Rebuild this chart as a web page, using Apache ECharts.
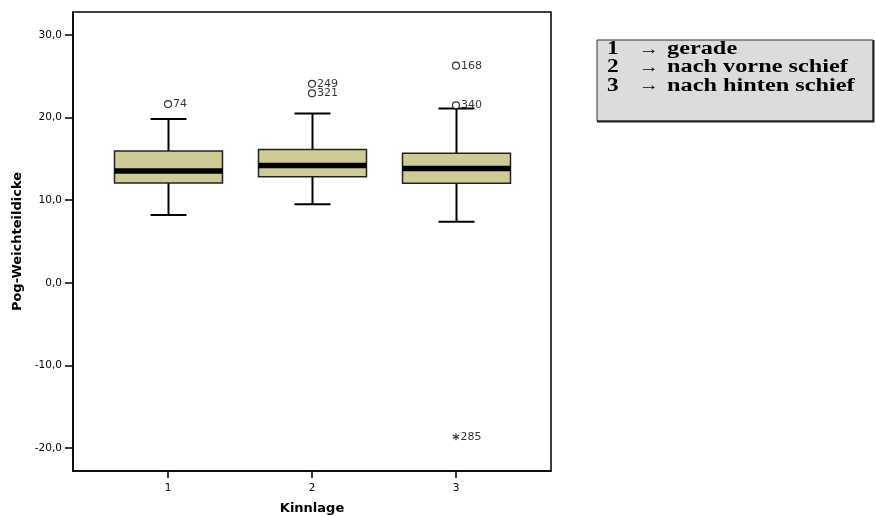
<!DOCTYPE html>
<html>
<head>
<meta charset="utf-8">
<script src="https://cdn.jsdelivr.net/npm/echarts@6/dist/echarts.min.js"></script>
<style>
  html, body { margin: 0; padding: 0; background: #fff; }
  #chart { width: 876px; height: 516px; }
</style>
</head>
<body>
<div id="chart"></div>
<script>
// Kinnlage groups and box statistics of Pog-Weichteildicke
const categories = [1, 2, 3];
const whiskerLow = [8.2, 9.5, 7.4];
const quartile1 = [12.1, 12.85, 12.05];
const medians = [13.55, 14.2, 13.85];
const quartile3 = [15.95, 16.15, 15.7];
const whiskerHigh = [19.85, 20.5, 21.1];

// Outliers (circles) and extremes (stars): [group, value, case number]
const outliers = [
  [1, 21.65, '74'],
  [2, 24.1, '249'],
  [2, 22.95, '321'],
  [3, 26.3, '168'],
  [3, 21.5, '340']
];
const extremes = [
  [3, -18.65, '285']
];

const yTicks = [-20, -10, 0, 10, 20, 30];
const legendKeys = ['1', '2', '3'];
const legendTexts = ['gerade', 'nach vorne schief', 'nach hinten schief'];

const SANS = '"DejaVu Sans", "Liberation Sans", sans-serif';
const SERIF = '"Liberation Serif", "Times New Roman", serif';

// six-armed asterisk used for extreme values
function asteriskPath() {
  const L = 5, W = 0.75;
  let d = '';
  for (let k = 0; k < 3; k++) {
    const a = k * Math.PI / 3;
    const c = Math.cos(a), s = Math.sin(a);
    const pts = [[-W, -L], [W, -L], [W, L], [-W, L]].map(([x, y]) =>
      [(x * c - y * s).toFixed(3), (x * s + y * c).toFixed(3)]);
    d += 'M' + pts.map(p => p.join(',')).join(' L') + ' Z ';
  }
  return 'path://' + d;
}

const boxData = categories.map((c, i) =>
  [c, whiskerLow[i], quartile1[i], medians[i], quartile3[i], whiskerHigh[i]]);

const BOX_W = 0.75;   // box width in x units
const CAP_W = 0.25;   // whisker cap width in x units

function renderBox(params, api) {
  const x = api.value(0);
  const low = api.coord([x, api.value(1)]);
  const q1 = api.coord([x, api.value(2)]);
  const med = api.coord([x, api.value(3)]);
  const q3 = api.coord([x, api.value(4)]);
  const high = api.coord([x, api.value(5)]);
  const bw = api.size([BOX_W, 0])[0];
  const cw = api.size([CAP_W, 0])[0];
  const cx = Math.round(low[0]) + 0.5;
  const lineStyle = { stroke: '#000', lineWidth: 2 };
  return {
    type: 'group',
    children: [
      { type: 'line', shape: { x1: cx, y1: high[1], x2: cx, y2: q3[1] }, style: lineStyle },
      { type: 'line', shape: { x1: cx, y1: q1[1], x2: cx, y2: low[1] }, style: lineStyle },
      { type: 'line', shape: { x1: cx - cw / 2, y1: high[1], x2: cx + cw / 2, y2: high[1] }, style: lineStyle },
      { type: 'line', shape: { x1: cx - cw / 2, y1: low[1], x2: cx + cw / 2, y2: low[1] }, style: lineStyle },
      {
        type: 'rect',
        shape: { x: cx - bw / 2, y: q3[1], width: bw, height: q1[1] - q3[1] },
        style: { fill: '#cecb97', stroke: '#222', lineWidth: 1.5 }
      },
      {
        type: 'rect',
        shape: { x: cx - bw / 2, y: med[1] - 2.75, width: bw, height: 5.5 },
        style: { fill: '#000' }
      }
    ]
  };
}

const chart = echarts.init(document.getElementById('chart'), null, { renderer: 'canvas' });

// legend rows: number, arrow, description (text is drawn wide)
const legendRows = [];
legendKeys.forEach((k, i) => {
  const y = 49.5 + i * 18.2;
  const txt = (x, s, font, sx) => ({
    type: 'text', x: x, y: y, scaleX: sx,
    style: { text: s, x: 0, y: 0, font: font, fill: '#000', verticalAlign: 'middle', align: 'left' }
  });
  legendRows.push(
    txt(607, k, 'bold 18px ' + SERIF, 1.3),
    txt(639, '\u2192', '16px ' + SERIF, 1.25),
    txt(667, legendTexts[i], 'bold 18px ' + SERIF, 1.35)
  );
});

chart.setOption({
  animation: false,
  backgroundColor: '#fff',
  grid: {
    left: 73, top: 12, right: 325, bottom: 45,
    outerBoundsMode: 'none',
    containLabel: false,
    show: true, borderColor: '#000', borderWidth: 1.5, backgroundColor: 'transparent'
  },
  xAxis: {
    type: 'value',
    min: 0.34, max: 3.66,
    name: 'Kinnlage',
    nameLocation: 'middle',
    nameGap: 31,
    nameTextStyle: { fontFamily: SANS, fontWeight: 'bold', fontSize: 13, color: '#000' },
    axisLine: { show: true, onZero: false, lineStyle: { color: '#000', width: 1.5 } },
    axisTick: { show: true, customValues: categories, length: 7, lineStyle: { color: '#000', width: 1.5 } },
    axisLabel: {
      customValues: categories, margin: 12,
      fontFamily: SANS, fontSize: 10.5, color: '#000',
      formatter: v => String(v)
    },
    splitLine: { show: false }
  },
  yAxis: {
    type: 'value',
    min: -22.8, max: 32.8,
    name: 'Pog-Weichteildicke',
    nameLocation: 'middle',
    nameGap: 40,
    nameRotate: 90,
    nameTextStyle: { fontFamily: SANS, fontWeight: 'bold', fontSize: 13, color: '#000' },
    axisLine: { show: true, onZero: false, lineStyle: { color: '#000', width: 1.5 } },
    axisTick: { show: true, customValues: yTicks, length: 8, lineStyle: { color: '#000', width: 1.5 } },
    axisLabel: {
      customValues: yTicks, margin: 11,
      fontFamily: SANS, fontSize: 10.5, color: '#000',
      formatter: v => v.toFixed(1).replace('.', ',')
    },
    splitLine: { show: false }
  },
  series: [
    {
      type: 'custom',
      renderItem: renderBox,
      encode: { x: 0, y: [1, 2, 3, 4, 5] },
      data: boxData,
      z: 2
    },
    {
      type: 'scatter',
      data: outliers,
      symbol: 'circle',
      symbolSize: 7,
      itemStyle: { color: '#fff', borderColor: '#000', borderWidth: 1.2 },
      label: {
        show: true, position: 'right', distance: 1,
        fontFamily: SANS, fontSize: 11, color: '#000',
        formatter: p => p.value[2]
      },
      z: 3
    },
    {
      type: 'scatter',
      data: extremes,
      symbol: asteriskPath(),
      symbolSize: 7,
      itemStyle: { color: '#000' },
      label: {
        show: true, position: 'right', distance: 1,
        fontFamily: SANS, fontSize: 11, color: '#000',
        formatter: p => p.value[2]
      },
      z: 3
    }
  ],
  graphic: [
    {
      type: 'rect',
      shape: { x: 597, y: 40, width: 276, height: 81 },
      style: { fill: '#dcdcdc', stroke: '#333', lineWidth: 1 }
    },
    {
      type: 'line',
      shape: { x1: 597, y1: 121.5, x2: 874, y2: 121.5 },
      style: { stroke: '#222', lineWidth: 2 }
    },
    {
      type: 'line',
      shape: { x1: 873.5, y1: 40, x2: 873.5, y2: 122 },
      style: { stroke: '#222', lineWidth: 2 }
    },
    ...legendRows
  ]
});
</script>
</body>
</html>
